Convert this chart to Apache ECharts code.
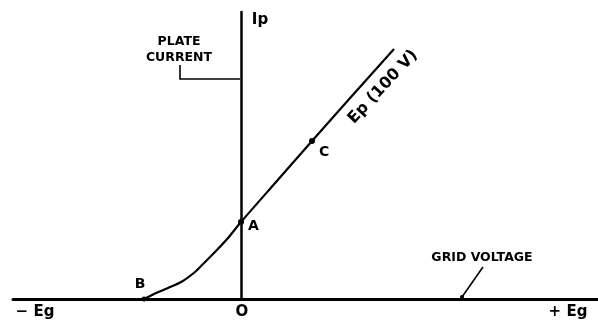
<!DOCTYPE html>
<html><head><meta charset="utf-8">
<script src="https://cdn.jsdelivr.net/npm/echarts@6/dist/echarts.min.js"></script>
<style>html,body{margin:0;padding:0;background:#fff}#c{width:598px;height:323px}</style>
</head><body><div id="c"></div>
<script>
// Plate current curve (grid voltage offset, plate current) in drawing units
const curveX = [-97, -86, -73, -59, -46, -39, -26, -13, 0, 35, 71, 110, 153];
const curveY = [0, 5.5, 11, 17.5, 27, 34, 47, 61, 77, 117, 158, 202, 250];
// Marked operating points
const pointNames = ['A', 'B', 'C'];
const pointX = [0, -97, 71];
const pointY = [77, 0, 158];
// Axis end labels
const tickLabels = ['− Eg', 'O', '+ Eg'];
const tickValues = [-206, 1, 327];
// Annotations
const noteTexts = ['Ip', 'PLATE\nCURRENT', 'GRID VOLTAGE', 'Ep (100 V)'];
const noteX = [19, -62, 241, 142];
const noteY = [279, 249.5, 41.5, 212];
// Arrow to plate current axis
const arrowX = [-61, -61, -1];
const arrowY = [234, 220, 220];
// Leader to grid voltage axis
const leaderX = [242, 221];
const leaderY = [32, 2];

const FONT = 'DejaVu Sans';
const chart = echarts.init(document.getElementById('c'));
const noteStyles = [
  {fontSize: 15},
  {fontSize: 12.5, lineHeight: 16},
  {fontSize: 12.5},
  {fontSize: 16, rotate: 47}
];
chart.setOption({
  animation: false,
  backgroundColor: '#fff',
  grid: {left: 13, right: 0, top: 12, bottom: 24},
  xAxis: {
    type: 'value', min: -228, max: 357,
    axisLine: {show: true, onZero: true, lineStyle: {color: '#000', width: 3}},
    axisTick: {show: false}, splitLine: {show: false},
    axisLabel: {
      customValues: tickValues,
      formatter: v => tickLabels[tickValues.indexOf(v)],
      color: '#000', fontFamily: FONT, fontWeight: 'bold', fontSize: 15, margin: 6
    }
  },
  yAxis: {
    type: 'value', min: 0, max: 287,
    axisLine: {show: true, onZero: true, lineStyle: {color: '#000', width: 2.5}},
    axisTick: {show: false}, splitLine: {show: false}, axisLabel: {show: false}
  },
  series: [
    {
      type: 'line', smooth: 0.3, symbol: 'none',
      data: curveX.map((x, i) => [x, curveY[i]]),
      lineStyle: {color: '#000', width: 2.2}
    },
    {
      type: 'scatter', symbol: 'circle',
      data: pointNames.map((n, i) => ({
        value: [pointX[i], pointY[i]], name: n,
        symbolSize: n === 'B' ? 5 : 6,
        label: n === 'A' ? {position: 'right', distance: 4, offset: [0, 4]}
             : n === 'B' ? {position: 'top', distance: 5, offset: [-4, 0]}
             : {position: 'right', distance: 4, offset: [0, 11]}
      })),
      itemStyle: {color: '#000', opacity: 1},
      label: {show: true, formatter: p => p.name, color: '#000', fontFamily: FONT, fontWeight: 'bold', fontSize: 14}
    },
    {
      type: 'scatter', symbolSize: 0,
      itemStyle: {opacity: 1},
      data: noteTexts.map((t, i) => ({
        value: [noteX[i], noteY[i]], name: t,
        label: Object.assign({show: true, position: 'inside', align: 'center', verticalAlign: 'middle',
          formatter: p => p.name, color: '#000', fontFamily: FONT, fontWeight: 'bold'}, noteStyles[i])
      }))
    },
    {
      type: 'lines', coordinateSystem: 'cartesian2d', polyline: true,
      symbol: ['none', 'arrow'], symbolSize: 6,
      lineStyle: {color: '#000', width: 1.6, opacity: 1},
      data: [{coords: arrowX.map((x, i) => [x, arrowY[i]])}]
    },
    {
      type: 'lines', coordinateSystem: 'cartesian2d',
      symbol: ['none', 'circle'], symbolSize: 4,
      lineStyle: {color: '#000', width: 1.6, opacity: 1},
      data: [{coords: leaderX.map((x, i) => [x, leaderY[i]])}]
    }
  ]
});
</script></body></html>
